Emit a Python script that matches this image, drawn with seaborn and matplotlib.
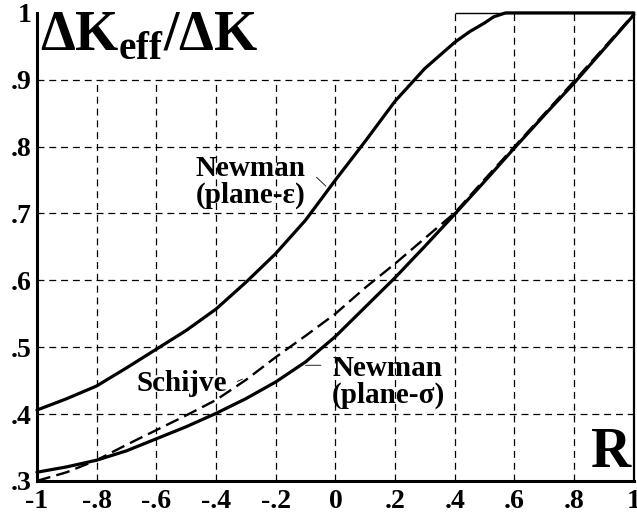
import numpy as np
import pandas as pd
import matplotlib
matplotlib.use('Agg')
import matplotlib.pyplot as plt
import seaborn as sns

# curve data
r_eps = [-1, -0.9, -0.8, -0.7, -0.6, -0.5, -0.4, -0.3, -0.2, -0.1, 0, 0.1, 0.2, 0.3, 0.4, 0.45, 0.5, 0.53, 0.57, 0.6, 0.8, 1]
u_eps = [0.406, 0.423, 0.442, 0.469, 0.497, 0.525, 0.557, 0.597, 0.640, 0.690, 0.75, 0.808, 0.868, 0.917, 0.956, 0.972, 0.985, 0.994, 1.0, 1.0, 1.0, 1.0]

r_sig = [-1, -0.9, -0.8, -0.7, -0.6, -0.5, -0.4, -0.3, -0.2, -0.1, 0, 0.1, 0.2, 0.3, 0.4, 0.5, 0.6, 0.7, 0.8, 0.9, 1]
u_sig = [0.313, 0.321, 0.331, 0.345, 0.363, 0.381, 0.401, 0.423, 0.448, 0.478, 0.516, 0.560, 0.604, 0.651, 0.699, 0.748, 0.798, 0.847, 0.895, 0.946, 0.997]

r_sch = [-1, -0.9, -0.8, -0.7, -0.6, -0.5, -0.4, -0.3, -0.2, -0.1, 0, 0.1, 0.2, 0.3, 0.4, 0.5, 0.6, 0.8, 1]
u_sch = [0.300, 0.313, 0.331, 0.354, 0.376, 0.398, 0.421, 0.451, 0.485, 0.517, 0.550, 0.589, 0.625, 0.663, 0.701, 0.751, 0.800, 0.898, 0.998]

xticks = [-1, -0.8, -0.6, -0.4, -0.2, 0, 0.2, 0.4, 0.6, 0.8, 1]
xlabels = ['-1', '-.8', '-.6', '-.4', '-.2', '0', '.2', '.4', '.6', '.8', '1']
yticks = [0.3, 0.4, 0.5, 0.6, 0.7, 0.8, 0.9, 1.0]
ylabels = ['.3', '.4', '.5', '.6', '.7', '.8', '.9', '1']

sns.set_style('white')
plt.rcParams['font.family'] = ['Liberation Serif', 'DejaVu Serif']
plt.rcParams['font.weight'] = 'bold'
plt.rcParams['text.color'] = 'black'
plt.rcParams['xtick.color'] = 'black'
plt.rcParams['ytick.color'] = 'black'
plt.rcParams['mathtext.fontset'] = 'custom'
plt.rcParams['mathtext.bf'] = 'Liberation Serif:bold'
plt.rcParams['mathtext.rm'] = 'Liberation Serif:bold'
plt.rcParams['lines.scale_dashes'] = False
plt.rcParams['lines.solid_joinstyle'] = 'round'

fig = plt.figure(figsize=(6.37, 5.16), dpi=100)
ax = fig.add_axes([0.058, 0.068, 0.937, 0.907])

# grid
grid_kw = dict(color='black', lw=0.9, linestyle=(0, (5, 3.5)), zorder=1)
for x in xticks[1:-1]:
    ax.vlines(x, 0.3, 1.0 if x >= 0.4 else 0.9, **grid_kw)
for y in yticks[1:-1]:
    ax.hlines(y, -1, 1, **grid_kw)
ax.hlines(1.0, 0.4, 1, color='black', lw=1.0, clip_on=False, zorder=2)

df_eps = pd.DataFrame({'R': r_eps, 'U': u_eps})
df_sig = pd.DataFrame({'R': r_sig, 'U': u_sig})
df_sch = pd.DataFrame({'R': r_sch, 'U': u_sch})

sns.lineplot(data=df_eps, x='R', y='U', ax=ax, color='black', lw=2.3, sort=False, estimator=None, clip_on=False, zorder=3)
sns.lineplot(data=df_sig, x='R', y='U', ax=ax, color='black', lw=2.3, sort=False, estimator=None, clip_on=False, zorder=3)
sns.lineplot(data=df_sch, x='R', y='U', ax=ax, color='black', lw=1.7, sort=False, estimator=None,
             linestyle=(0, (10, 4.5)), clip_on=False, zorder=3)

ax.set_xlim(-1, 1)
ax.set_ylim(0.3, 1.0)
ax.set_xticks(xticks)
ax.set_xticklabels(xlabels, fontsize=20, fontweight='bold')
ax.set_yticks(yticks)
ax.set_yticklabels(ylabels, fontsize=20, fontweight='bold')
ax.tick_params(axis='x', length=3, width=1, pad=3)
ax.tick_params(axis='y', length=3, width=1, pad=1)
for lbl in ax.get_yticklabels():
    lbl.set_verticalalignment('center_baseline')
ax.set_xlabel('')
ax.set_ylabel('')

for s in ['left', 'bottom']:
    ax.spines[s].set_linewidth(2.2)
    ax.spines[s].set_color('black')
ax.spines['right'].set_linewidth(1.6)
ax.spines['right'].set_color('black')
ax.spines['top'].set_visible(False)

# labels
ax.text(-0.99, 0.945, r'ΔK$_{\mathbf{eff}}$/ΔK', fontsize=40, fontweight='bold', ha='left', va='baseline')
ax.text(0.99, 0.303, 'R', fontsize=40, fontweight='bold', ha='right', va='bottom')

ax.text(-0.283, 0.747, 'Newman\n(plane-ε)', fontsize=21, fontweight='bold', ha='center', va='center', linespacing=1.0)
ax.annotate('', xy=(-0.025, 0.738), xytext=(-0.070, 0.757),
            arrowprops=dict(arrowstyle='-', lw=0.6, color='black'))

ax.text(0.176, 0.448, 'Newman\n(plane-σ)', fontsize=21, fontweight='bold', ha='center', va='center', linespacing=1.0)
ax.annotate('', xy=(-0.109, 0.473), xytext=(-0.039, 0.473),
            arrowprops=dict(arrowstyle='-', lw=0.6, color='black'))

ax.text(-0.514, 0.445, 'Schijve', fontsize=21, fontweight='bold', ha='center', va='center')
ax.annotate('', xy=(-0.303, 0.454), xytext=(-0.337, 0.447),
            arrowprops=dict(arrowstyle='-', lw=0.6, color='black'))

fig.savefig('out.png', dpi=100)
